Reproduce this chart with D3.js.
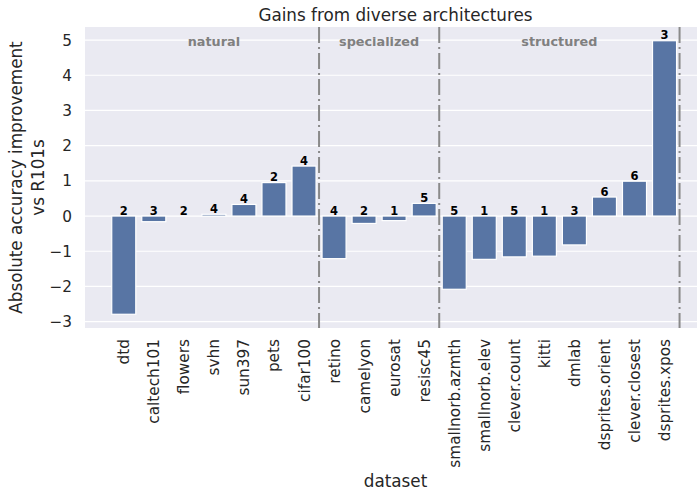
<!DOCTYPE html>
<html>
<head>
<meta charset="utf-8">
<script src="https://cdn.jsdelivr.net/npm/d3@7"></script>
<style>
  html, body { margin: 0; padding: 0; background: #fff; }
  svg { display: block; font-family: "DejaVu Sans", sans-serif; }
</style>
</head>
<body>
<svg id="chart" width="697" height="490"></svg>
<script>
const datasets = ["dtd","caltech101","flowers","svhn","sun397","pets","cifar100",
  "retino","camelyon","eurosat","resisc45",
  "smallnorb.azmth","smallnorb.elev","clever.count","kitti","dmlab","dsprites.orient","clever.closest","dsprites.xpos"];
const improvements = [-2.79,-0.16,0.0,0.05,0.33,0.95,1.42,
  -1.21,-0.21,-0.13,0.36,
  -2.08,-1.23,-1.16,-1.14,-0.82,0.54,0.99,4.98];
const counts = [2,3,2,4,4,2,4, 4,2,1,5, 5,1,5,1,3,6,6,3];
const groupNames = ["natural","specialized","structured"];
const groupStarts = [0,7,11];
const groupEnds = [6,10,18];
const yTicks = [-3,-2,-1,0,1,2,3,4,5];

const svg = d3.select("#chart");
const m = {left: 85, right: 706, top: 27, bottom: 328};

const x = d3.scaleLinear().domain([-1.29, 19.38]).range([m.left, m.right]);
const y = d3.scaleLinear().domain([-3.18, 5.37]).range([m.bottom, m.top]);
const step = x(1) - x(0);
const bw = step * 0.8;

// background
svg.append("rect").attr("x", m.left).attr("y", m.top)
  .attr("width", m.right - m.left).attr("height", m.bottom - m.top)
  .attr("fill", "#EAEAF2");

// grid
svg.append("g").selectAll("line").data(yTicks).join("line")
  .attr("x1", m.left).attr("x2", m.right)
  .attr("y1", d => y(d)).attr("y2", d => y(d))
  .attr("stroke", "#fff").attr("stroke-width", 1.2);

// y axis tick labels
svg.append("g").selectAll("text").data(yTicks).join("text")
  .attr("x", m.left - 13).attr("y", d => y(d)).attr("dy", "0.36em")
  .attr("text-anchor", "end").attr("font-size", 15.3).attr("fill", "#262626")
  .text(d => d < 0 ? "\u2212" + Math.abs(d) : d);

// bars
svg.append("g").selectAll("rect").data(improvements).join("rect")
  .attr("x", (d, i) => x(i) - bw / 2)
  .attr("width", bw)
  .attr("y", d => y(Math.max(0, d)))
  .attr("height", d => Math.abs(y(d) - y(0)))
  .attr("fill", "#5875A4").attr("stroke", "#fff").attr("stroke-width", 1.2);

// count labels
svg.append("g").selectAll("text").data(improvements).join("text")
  .attr("x", (d, i) => x(i))
  .attr("y", d => y(Math.max(0, d)) - 1.5)
  .attr("text-anchor", "middle").attr("font-size", 11.5).attr("font-weight", "bold")
  .attr("fill", "#000")
  .text((d, i) => counts[i]);

// group dividers
const dividers = groupEnds.map(e => e + 0.5);
svg.append("g").selectAll("line").data(dividers).join("line")
  .attr("x1", d => x(d)).attr("x2", d => x(d))
  .attr("y1", m.top).attr("y2", m.bottom)
  .attr("stroke", "#8a8a8a").attr("stroke-width", 2)
  .attr("stroke-dasharray", "16,4,2,4");

// group labels
svg.append("g").selectAll("text").data(groupNames).join("text")
  .attr("x", (d, i) => x((groupStarts[i] + groupEnds[i]) / 2))
  .attr("y", y(5) + 6)
  .attr("text-anchor", "middle").attr("font-size", 12.8).attr("font-weight", "bold")
  .attr("fill", "#808080")
  .text(d => d);

// x tick labels
svg.append("g").selectAll("text").data(datasets).join("text")
  .attr("transform", (d, i) => `translate(${x(i)},${m.bottom + 11}) rotate(-90)`)
  .attr("text-anchor", "end").attr("dy", "0.36em")
  .attr("font-size", 15.3).attr("fill", "#262626")
  .text(d => d);

// title
svg.append("text").attr("x", (m.left + m.right) / 2).attr("y", 21)
  .attr("text-anchor", "middle").attr("font-size", 16.8).attr("fill", "#262626")
  .text("Gains from diverse architectures");

// x label
svg.append("text").attr("x", (m.left + m.right) / 2).attr("y", 487)
  .attr("text-anchor", "middle").attr("font-size", 16.8).attr("fill", "#262626")
  .text("dataset");

// y label
const yl = svg.append("text")
  .attr("transform", `translate(22,${(m.top + m.bottom) / 2}) rotate(-90)`)
  .attr("text-anchor", "middle").attr("font-size", 16.8).attr("fill", "#262626");
yl.append("tspan").attr("x", 0).attr("dy", 0).text("Absolute accuracy improvement");
yl.append("tspan").attr("x", 0).attr("dy", 22).text("vs R101s");
</script>
</body>
</html>
